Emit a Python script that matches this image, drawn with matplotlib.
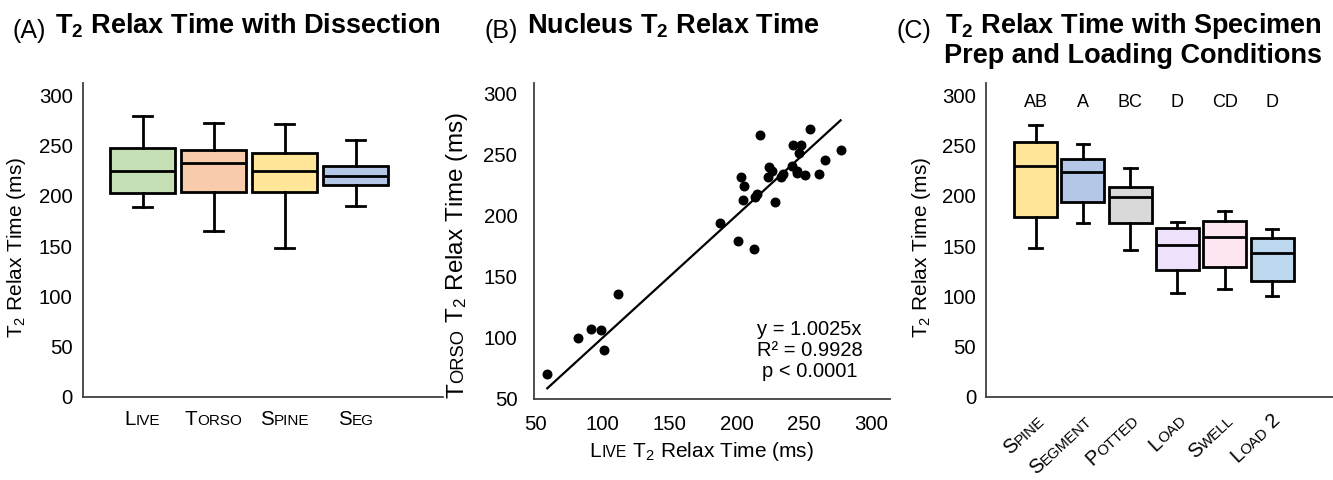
import numpy as np
import matplotlib
matplotlib.use('Agg')
import matplotlib.pyplot as plt

plt.rcParams['font.family'] = ['Liberation Sans', 'DejaVu Sans']
plt.rcParams['mathtext.fontset'] = 'custom'
plt.rcParams['mathtext.rm'] = 'Liberation Sans'
plt.rcParams['mathtext.bf'] = 'Liberation Sans:bold'

# --- panel A: T2 with dissection (box stats)
# labels in small caps: pieces alternate big / small
a_labels = [('L', 'IVE'), ('T', 'ORSO'), ('S', 'PINE'), ('S', 'EG')]
a_whislo = [189, 165, 148, 190]
a_q1 = [203, 204, 204, 211]
a_med = [225, 233, 225, 220]
a_q3 = [247, 245, 242, 230]
a_whishi = [279, 272, 271, 255]
a_colors = ['#c5e0b4', '#f8cbad', '#ffe699', '#b4c7e7']

# --- panel B: nucleus live vs torso
live = [58.6, 81.4, 90.9, 98.3, 100.6, 111.5, 187.3, 200.9, 212.6, 203.2, 205.1,
        204.6, 213.6, 215.1, 217.3, 223.3, 224.0, 226.0, 228.2, 232.5, 234.0, 240.7,
        241.9, 244.4, 244.9, 246.4, 247.6, 250.3, 254.3, 261.3, 265.5, 277.2]
torso = [70.4, 99.6, 107.2, 106.7, 90.1, 135.6, 193.6, 179.5, 172.9, 231.8, 224.4,
         212.4, 215.4, 217.4, 265.6, 231.3, 239.7, 236.4, 211.4, 231.8, 233.7, 240.5,
         257.4, 236.4, 234.5, 250.9, 257.4, 233.2, 270.5, 233.7, 245.4, 253.6]
slope = 1.0025
fit_text = 'y = 1.0025x\nR² = 0.9928\np < 0.0001'

# --- panel C: specimen prep and loading
c_labels = [('S', 'PINE'), ('S', 'EGMENT'), ('P', 'OTTED'), ('L', 'OAD'), ('S', 'WELL'),
            ('L', 'OAD', ' 2')]
c_whislo = [148, 173, 146, 103, 107, 100]
c_q1 = [179, 194, 173, 126, 129, 115]
c_med = [230, 224, 199, 151, 159, 143]
c_q3 = [253, 236, 209, 168, 175, 158]
c_whishi = [270, 251, 228, 174, 185, 167]
c_letters = ['AB', 'A', 'BC', 'D', 'CD', 'D']
c_colors = ['#ffe699', '#b4c7e7', '#d9d9d9', '#ede1fb', '#fde6f2', '#bdd7ee']

BIG, SMALL = 14.8, 11
TICK = 14.7
LAB = 15
SPINE_C = '#404040'

fig = plt.figure(figsize=(13.33, 4.8), dpi=100)
W, H = 1333, 480


def px_axes(l, r, t, b):
    return fig.add_axes([l / W, 1 - b / H, (r - l) / W, (b - t) / H])


def sized(pieces, big, small):
    return [(p, big if i % 2 == 0 else small) for i, p in enumerate(pieces)]


def smallcaps(ax, xy, parts, coords, angle=0, ha='center', offset=(0, 0)):
    # draw pieces of text side by side, each at its own size
    rend = fig.canvas.get_renderer()
    widths = []
    for txt, size in parts:
        t = fig.text(0, 0, txt, fontsize=size)
        widths.append(t.get_window_extent(rend).width * 72 / fig.dpi)
        t.remove()
    total = sum(widths)
    pos = {'center': -total / 2, 'right': -total, 'left': 0}[ha]
    c, s = np.cos(np.radians(angle)), np.sin(np.radians(angle))
    for (txt, size), w in zip(parts, widths):
        ax.annotate(txt, xy, xycoords=coords,
                    xytext=(offset[0] + pos * c, offset[1] + pos * s),
                    textcoords='offset points', fontsize=size, rotation=angle,
                    rotation_mode='anchor', ha='left', va='baseline',
                    annotation_clip=False)
        pos += w


def style(ax, pad):
    for side in ['top', 'right']:
        ax.spines[side].set_visible(False)
    for side in ['left', 'bottom']:
        ax.spines[side].set_color(SPINE_C)
        ax.spines[side].set_linewidth(1.3)
    ax.tick_params(length=0, labelsize=TICK, pad=pad)


def boxes(ax, whislo, q1, med, q3, whishi, colors):
    stats = [dict(whislo=a, q1=b, med=c, q3=d, whishi=e)
             for a, b, c, d, e in zip(whislo, q1, med, q3, whishi)]
    pos = np.arange(1, len(stats) + 1)
    lw = 2
    bp = ax.bxp(stats, positions=pos, widths=0.91, showfliers=False, patch_artist=True,
                boxprops=dict(linewidth=lw, edgecolor='black'),
                whiskerprops=dict(linewidth=lw), capprops=dict(linewidth=lw),
                medianprops=dict(linewidth=lw, color='black'), capwidths=0.27)
    for patch, col in zip(bp['boxes'], colors):
        patch.set_facecolor(col)
    return pos


# ===== A =====
axA = px_axes(83, 443, 83, 397)
style(axA, 7.5)
posA = boxes(axA, a_whislo, a_q1, a_med, a_q3, a_whishi, a_colors)
axA.set_xlim(0.16, 5.23)
axA.set_ylim(0, 312)
axA.set_yticks(range(0, 301, 50))
axA.set_xticks([])
axA.set_ylabel(r'$\mathregular{T_2}$ Relax Time (ms)', fontsize=LAB)
axA.yaxis.set_label_coords(-0.152, 0.475)
for p, lab in zip(posA, a_labels):
    smallcaps(axA, (p, 0), sized(lab, BIG, SMALL), axA.get_xaxis_transform(),
              offset=(0, -20.5))

# ===== B =====
axB = px_axes(534, 890, 83, 399)
style(axB, 12)
axB.tick_params(axis='x', pad=11.5)
axB.scatter(live, torso, s=38, color='black', zorder=3)
xs = np.array([min(live), max(live)])
axB.plot(xs, slope * xs, color='black', lw=1.6)
axB.set_xlim(48.7, 314)
axB.set_ylim(50, 308.4)
axB.set_xticks(range(50, 301, 50))
axB.set_yticks(range(50, 301, 50))
axB.text(254, 115, fit_text, ha='center', va='top', fontsize=14.5, linespacing=1.15)
smallcaps(axB, (0.471, 0), [('L', 15), ('IVE', 11.3),
                            (r' $\mathregular{T_2}$ Relax Time (ms)', LAB)],
          'axes fraction', offset=(0, -41.5))
smallcaps(axB, (0, 0.455), [('T', 17.5), ('ORSO', 13.2),
                            (r' $\mathregular{T_2}$ Relax Time (ms)', 17.5)],
          'axes fraction', angle=90, offset=(-51, 0))

# ===== C =====
axC = px_axes(986, 1333, 83, 397)
style(axC, 7.2)
posC = boxes(axC, c_whislo, c_q1, c_med, c_q3, c_whishi, c_colors)
axC.set_xlim(-0.05, 7.29)
axC.set_ylim(0, 312)
axC.set_yticks(range(0, 301, 50))
axC.set_xticks([])
axC.set_ylabel(r'$\mathregular{T_2}$ Relax Time (ms)', fontsize=LAB)
axC.yaxis.set_label_coords(-0.153, 0.475)
for p, let in zip(posC, c_letters):
    axC.text(p, 288, let, ha='center', va='baseline', fontsize=13)
for p, lab in zip(posC, c_labels):
    smallcaps(axC, (p, 0), sized(lab, 14.5, 10.8), axC.get_xaxis_transform(),
              angle=43, ha='right', offset=(7, -18))

# ===== titles =====
def title(xp, letter, xb, text):
    fig.text(xp / W, 1 - 38 / H, letter, fontsize=18, ha='left', va='baseline')
    fig.text(xb / W, 1 - 33 / H, text, fontsize=19.5, fontweight='bold',
             ha='left', va='baseline')


title(12, '(A)', 55, r'$\mathregular{T_2}$ Relax Time with Dissection')
title(484, '(B)', 527, r'Nucleus $\mathregular{T_2}$ Relax Time')
fig.text(897 / W, 1 - 38 / H, '(C)', fontsize=18, ha='left', va='baseline')
fig.text(1133.5 / W, 1 - 33 / H, r'$\mathregular{T_2}$ Relax Time with Specimen',
         fontsize=19.5, fontweight='bold', ha='center', va='baseline')
fig.text(1133.5 / W, 1 - 63 / H, 'Prep and Loading Conditions',
         fontsize=19.5, fontweight='bold', ha='center', va='baseline')

fig.savefig('out.png', dpi=100)
